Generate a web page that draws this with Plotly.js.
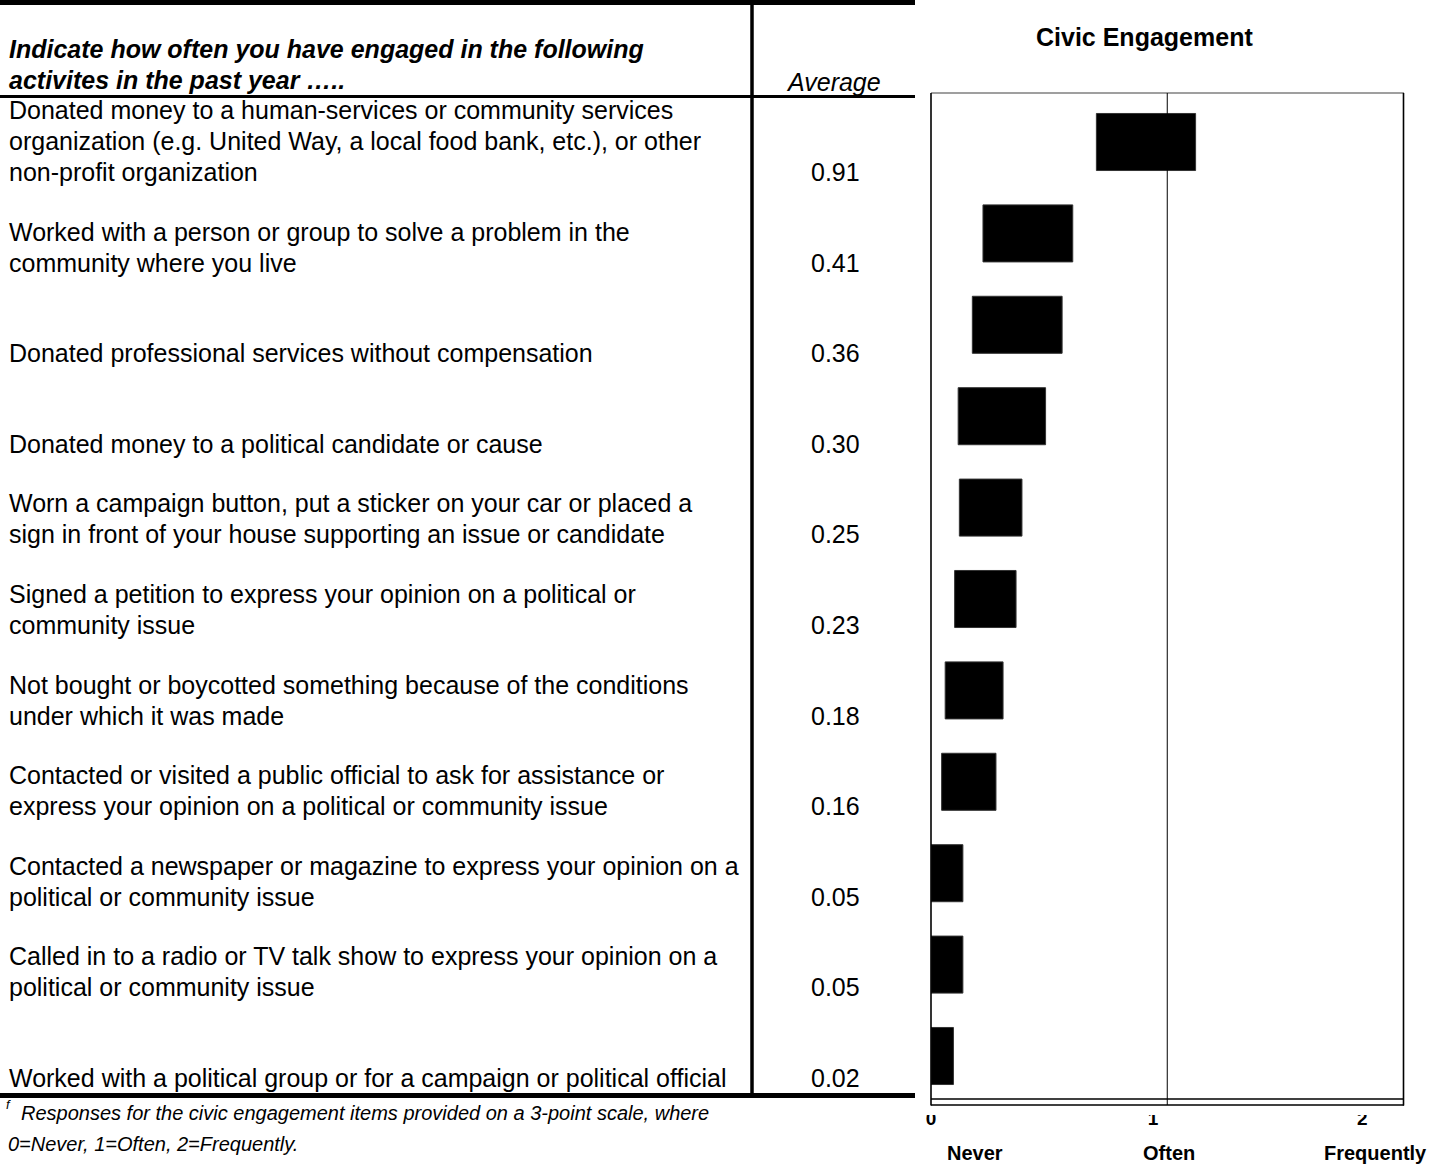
<!DOCTYPE html>
<html>
<head>
<meta charset="utf-8">
<script src="https://cdn.plot.ly/plotly-3.0.1.min.js"></script>
<style>
  html, body { margin: 0; padding: 0; background: #ffffff; }
  #chart { width: 1450px; height: 1166px; }
</style>
</head>
<body>
<div id="chart"></div>
<script>
// ---------------- data ----------------
const ITEM_LINES = [
  ["Donated money to a human-services or community services", "organization (e.g. United Way, a local food bank, etc.), or other", "non-profit organization"],
  ["Worked with a person or group to solve a problem in the", "community where you live"],
  ["Donated professional services without compensation"],
  ["Donated money to a political candidate or cause"],
  ["Worn a campaign button, put a sticker on your car or placed a", "sign in front of your house supporting an issue or candidate"],
  ["Signed a petition to express your opinion on a political or", "community issue"],
  ["Not bought or boycotted something because of the conditions", "under which it was made"],
  ["Contacted or visited a public official to ask for assistance or", "express your opinion on a political or community issue"],
  ["Contacted a newspaper or magazine to express your opinion on a", "political or community issue"],
  ["Called in to a radio or TV talk show to express your opinion on a", "political or community issue"],
  ["Worked with a political group or for a campaign or political official"]
];
const AVERAGES   = [0.91, 0.41, 0.36, 0.30, 0.25, 0.23, 0.18, 0.16, 0.05, 0.05, 0.02];
const RANGE_LOW  = [0.70, 0.22, 0.175, 0.115, 0.12, 0.10, 0.06, 0.045, 0.0, 0.0, 0.0];
const RANGE_HIGH = [1.12, 0.60, 0.555, 0.485, 0.385, 0.36, 0.305, 0.275, 0.135, 0.135, 0.095];
const TICK_TEXT  = ["0", "1", "2"];
const SCALE_LABELS = ["Never", "Often", "Frequently"];
const HEADER_LINES = ["Indicate how often you have engaged in the following", "activites in the past year \u2026.."];
const AVG_HEADER = "Average";
const TITLE = "Civic Engagement";
const FOOT_LINES = ["Responses for the civic engagement items provided on a 3-point scale, where", "0=Never, 1=Often, 2=Frequently."];

// ---------------- layout helpers ----------------
const W = 1450, H = 1166;
const px = x => x / W;
const py = y => 1 - y / H;
const FONT = "Liberation Sans, Arial, Helvetica, sans-serif";
const CATS = ITEM_LINES.map(l => l.join(" "));

const traces = [
  {
    type: "bar", orientation: "h",
    y: CATS,
    base: RANGE_LOW,
    x: RANGE_HIGH.map((h, i) => h - RANGE_LOW[i]),
    width: 0.624,
    marker: { color: "#000000", line: { color: "#333333", width: 1 } },
    hoverinfo: "skip", showlegend: false
  },
  {
    type: "scatter", mode: "markers",
    x: CATS.map(() => 0), y: CATS, yaxis: "y2",
    marker: { opacity: 0, size: 1 },
    hoverinfo: "skip", showlegend: false
  }
];

const annotations = [];
function ann(o) {
  annotations.push(Object.assign({ showarrow: false, xref: "paper", yref: "paper",
    xanchor: "left", yanchor: "middle", font: { family: FONT, size: 25, color: "#000" } }, o));
}

// header
HEADER_LINES.forEach((t, i) => ann({ text: t, x: px(7), y: py(49 + i * 31),
  font: { family: FONT, size: 25, color: "#000", weight: "bold", style: "italic" } }));
ann({ text: AVG_HEADER, x: px(833), xanchor: "center", y: py(82),
  font: { family: FONT, size: 25, color: "#000", style: "italic" } });

// item labels + averages, tied to the rows of the hidden text axis
ITEM_LINES.forEach((lines, r) => {
  const n = lines.length;
  lines.forEach((t, i) => ann({ text: t, x: px(7), yref: "y2", y: r, yshift: (n - 1 - i) * 31 }));
  ann({ text: AVERAGES[r].toFixed(2), x: px(835), xanchor: "center", yref: "y2", y: r });
});

// chart title + scale labels
ann({ text: TITLE, x: px(1144), xanchor: "center", y: py(37),
  font: { family: FONT, size: 25, color: "#000", weight: "bold" } });
[0, 1, 2].forEach(v => ann({ text: SCALE_LABELS[v], xref: "x", x: v, xanchor: "center",
  xshift: [44, 2, -28][v], y: py(1153), font: { family: FONT, size: 20, color: "#000", weight: "bold" } }));

// footnote
ann({ text: "f", x: px(4), y: py(1104), font: { family: FONT, size: 13, color: "#000", style: "italic" } });
ann({ text: FOOT_LINES[0], x: px(19), y: py(1113), font: { family: FONT, size: 20, color: "#000", style: "italic" } });
ann({ text: FOOT_LINES[1], x: px(6), y: py(1144), font: { family: FONT, size: 20, color: "#000", style: "italic" } });

function hline(x0, x1, y, w, c) {
  return { type: "line", xref: "paper", yref: "paper", x0: px(x0), x1: px(x1), y0: py(y), y1: py(y),
    line: { color: c || "#000", width: w } };
}
function vline(x, y0, y1, w, c) {
  return { type: "line", xref: "paper", yref: "paper", x0: px(x), x1: px(x), y0: py(y0), y1: py(y1),
    line: { color: c || "#000", width: w } };
}

const shapes = [
  // white strip that crops the top of the tick digits
  { type: "rect", xref: "paper", yref: "paper", x0: px(915), x1: px(1425), y0: py(1106), y1: py(1115),
    fillcolor: "#ffffff", line: { width: 0 }, layer: "above" },
  // table rules
  hline(0, 915, 2.5, 5),
  hline(0, 915, 96.5, 3),
  hline(0, 915, 1095.5, 5),
  vline(752, 0, 1097, 3.5),
  // plot frame
  hline(931, 1404, 93, 1.5, "#7f7f7f"),
  vline(931, 93, 1105.5, 1.6),
  vline(1403.5, 93, 1105.5, 1.6),
  hline(931, 1404, 1099, 1.5),
  hline(931, 1404, 1105, 1.5),
  // "Often" reference line at 1
  { type: "line", xref: "x", yref: "paper", x0: 1, x1: 1, y0: py(1105), y1: py(93),
    line: { color: "#000", width: 1 } }
];

const layout = {
  width: W, height: H, autosize: false,
  margin: { l: 0, r: 0, t: 0, b: 0, pad: 0 },
  paper_bgcolor: "#ffffff", plot_bgcolor: "rgba(0,0,0,0)",
  showlegend: false, hovermode: false, bargap: 0,
  font: { family: FONT, color: "#000" },
  xaxis: {
    domain: [px(931), px(1403.5)], range: [0, 2], anchor: "y",
    tickmode: "array", tickvals: [0, 0.94, 1.826], ticktext: TICK_TEXT,
    ticks: "", showgrid: false, zeroline: false, showline: false,
    tickfont: { family: FONT, size: 19, color: "#000", weight: "bold" },
    ticklabelstandoff: 3, fixedrange: true
  },
  yaxis: {
    domain: [py(1101.7), py(96.3)], type: "category", categoryarray: CATS, categoryorder: "array",
    range: [10.5, -0.5], showticklabels: false, showgrid: false, zeroline: false, showline: false,
    ticks: "", fixedrange: true
  },
  yaxis2: {
    domain: [py(1123.3), py(126.7)], anchor: "x", type: "category", categoryarray: CATS, categoryorder: "array",
    range: [10.5, -0.5], visible: false, showgrid: false, zeroline: false, fixedrange: true
  },
  shapes: shapes,
  annotations: annotations
};

Plotly.newPlot("chart", traces, layout, { displayModeBar: false, staticPlot: true });
</script>
</body>
</html>
